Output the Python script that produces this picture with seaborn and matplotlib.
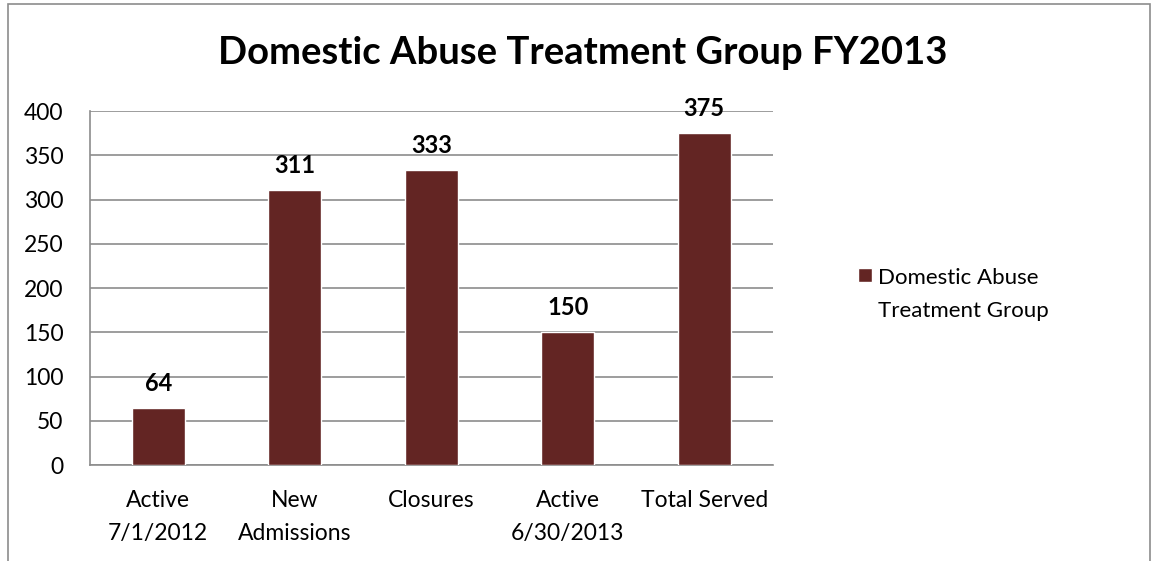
import matplotlib
matplotlib.use('Agg')
import matplotlib.pyplot as plt
import seaborn as sns
import pandas as pd
from matplotlib.patches import Rectangle, Patch

sns.set_theme(style='white')
plt.rcParams['font.family'] = ['Lato', 'DejaVu Sans']
plt.rcParams['text.color'] = 'black'
plt.rcParams['xtick.color'] = 'black'
plt.rcParams['ytick.color'] = 'black'

categories = ['Active\n7/1/2012', 'New\nAdmissions', 'Closures', 'Active\n6/30/2013', 'Total Served']
values = [64, 311, 333, 150, 375]
series_name = 'Domestic Abuse\nTreatment Group'
bar_color = '#632523'

df = pd.DataFrame({'cat': categories, 'val': values})

fig = plt.figure(figsize=(11.53, 5.61), dpi=100)
ax = fig.add_axes([0.078, 0.171, 0.592, 0.631])

sns.barplot(data=df, x='cat', y='val', color=bar_color, width=0.39,
            saturation=1, ax=ax, zorder=3)

ax.set_ylim(0, 400)
ax.set_yticks(range(0, 401, 50))
ax.set_xlim(-0.5, len(categories) - 0.5)
ax.yaxis.grid(True, color='#8c8c8c', linewidth=1.2, zorder=0)
ax.set_xlabel('')
ax.set_ylabel('')

for sp in ['top', 'right']:
    ax.spines[sp].set_visible(False)
for sp in ['left', 'bottom']:
    ax.spines[sp].set_color('#8c8c8c')
    ax.spines[sp].set_linewidth(1.2)

# x ticks at category boundaries, labels centred
ax.set_xticks([i - 0.5 for i in range(len(categories) + 1)])
ax.set_xticklabels([])
ax.set_xticks(range(len(categories)), minor=True)
ax.set_xticklabels(categories, minor=True, fontsize=16.5)
ax.tick_params(axis='x', which='major', direction='out', length=6, color='#8c8c8c', width=1.2)
ax.tick_params(axis='x', which='minor', length=0, pad=18)
ax.tick_params(axis='y', direction='out', length=6, color='#8c8c8c', width=1.2, labelsize=16.5, pad=13)
for t in ax.get_xticklabels(minor=True):
    t.set_linespacing(1.72)

for i, v in enumerate(values):
    ax.text(i, v + 28, str(v), ha='center', va='center', fontsize=17, fontweight='bold')

fig.text(0.505, 0.905, 'Domestic Abuse Treatment Group FY2013', ha='center', va='center',
         fontsize=27.5, fontweight='bold')

leg = fig.legend(handles=[Patch(facecolor=bar_color, label=series_name)],
                 loc='center left', bbox_to_anchor=(0.727, 0.475), frameon=False,
                 fontsize=16, handlelength=0.6, handleheight=0.6, handletextpad=0.3)
for t in leg.get_texts():
    t.set_linespacing(1.87)
# put the square beside the first line, as in the original
h = leg.legend_handles[0]
h.set_y(h.get_y() + 14)

fig.patches.append(Rectangle((0.007, -0.1), 0.99, 1.092, transform=fig.transFigure,
                             fill=False, edgecolor='#8c8c8c', linewidth=1.2))

fig.savefig('out.png', dpi=100)
